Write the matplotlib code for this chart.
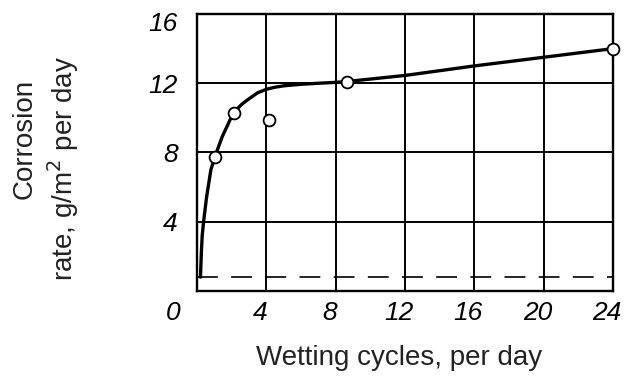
import matplotlib
matplotlib.use("Agg")
import matplotlib.pyplot as plt
from matplotlib.transforms import ScaledTranslation

# fitted curve
curve_x = [0.2, 0.25, 0.3, 0.38, 0.55, 0.8, 1.05, 1.45, 2.1, 2.6, 3.0, 3.5, 4.0, 4.5, 5.0, 6.0, 7.0, 8.0, 8.65, 12, 16, 20, 24]
curve_y = [0.8, 2.2, 3.2, 4.0, 5.4, 7.0, 7.8, 8.9, 10.3, 10.8, 11.1, 11.45, 11.65, 11.77, 11.85, 11.94, 12.0, 12.05, 12.1, 12.45, 13.0, 13.5, 14.0]

# measured points (open circles)
points_x = [1.05, 2.15, 4.15, 8.65, 24]
points_y = [7.75, 10.3, 9.9, 12.1, 14.0]

# dashed base level
base_level = 0.8

x_ticks = [4, 8, 12, 16, 20, 24]
y_ticks = [4, 8, 12, 16]

fig = plt.figure(figsize=(6.25, 3.76), dpi=100)
ax = fig.add_axes([0.3152, 0.2261, 0.6656, 0.7367])

ax.plot(curve_x, curve_y, color="black", lw=2.4, solid_capstyle="round", solid_joinstyle="round")
ax.plot(points_x, points_y, "o", ms=8.5, mfc="white", mec="black", mew=1.3, clip_on=False, zorder=5)
ax.axhline(base_level, color="black", lw=1.2, dashes=(12.5, 8))

ax.set_xlim(0, 24)
ax.set_ylim(0, 16)
ax.set_xticks(x_ticks)
ax.set_yticks(y_ticks)
ax.grid(True, color="black", lw=1.4)
for s in ax.spines.values():
    s.set_linewidth(1.7)

tick_font = dict(family="Liberation Sans", style="italic", size=19)
ax.set_xticklabels([str(t) for t in x_ticks], **tick_font)
ax.set_yticklabels([str(t) for t in y_ticks], **tick_font)
ax.tick_params(length=0)
ax.tick_params(axis="x", pad=7)
ax.tick_params(axis="y", pad=14)

for lab in ax.get_xticklabels():
    lab.set_transform(lab.get_transform() + ScaledTranslation(-0.06, 0, fig.dpi_scale_trans))
top_lab = ax.get_yticklabels()[-1]
top_lab.set_transform(top_lab.get_transform() + ScaledTranslation(0, -0.08, fig.dpi_scale_trans))

# shared origin label in the corner
ax.annotate("0", xy=(0, 0), xycoords="axes fraction", xytext=(-17, -16),
            textcoords="offset points", ha="center", va="center", **tick_font)

label_font = dict(family="Liberation Sans", size=20, color="#222222")
fig.text(399 / 625, 1 - 358 / 376, "Wetting cycles, per day", ha="center", va="center", **label_font)
fig.text(25 / 625, 1 - 139 / 376, "Corrosion", rotation=90, ha="center", va="center", **label_font)
fig.text(63 / 625, 1 - 168 / 376, "rate, g/m$^2$ per day", rotation=90, ha="center", va="center", **label_font)

fig.savefig("out.png", dpi=100)
